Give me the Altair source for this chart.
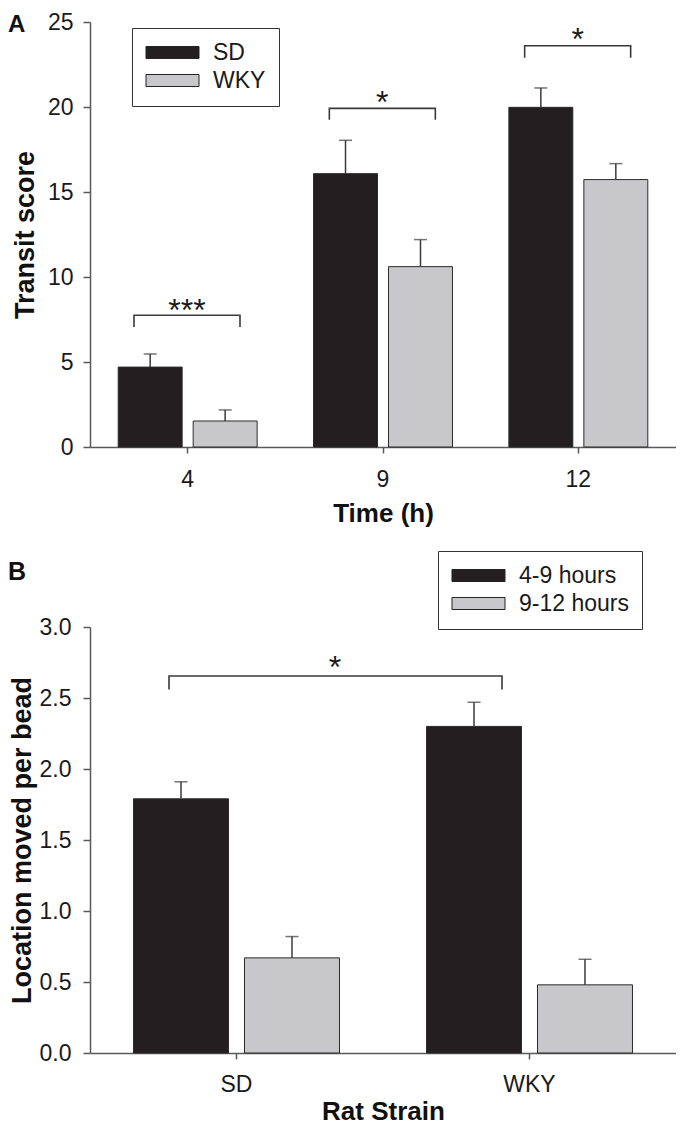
import altair as alt
import pandas as pd

FONT = "Liberation Sans"
INK = "#3a3a3a"
AXIS = "#5a5a5a"

# ---------------- Panel A ----------------
a_times = ["4", "9", "12"]
a_groups = ["SD", "WKY"]
a_sd_mean = [4.70, 16.08, 19.98]
a_sd_err = [0.77, 1.96, 1.14]
a_wky_mean = [1.53, 10.61, 15.73]
a_wky_err = [0.65, 1.59, 0.94]
a_brk_low = [7.06, 19.25, 22.90]
a_brk_high = [7.75, 19.92, 23.60]
a_star_y = [8.49, 20.72, 24.40]
a_star_text = ["***", "*", "*"]

# ---------------- Panel B ----------------
b_strains = ["SD", "WKY"]
b_periods = ["4-9 hours", "9-12 hours"]
b_early_mean = [1.79, 2.30]
b_early_err = [0.12, 0.17]
b_late_mean = [0.67, 0.48]
b_late_err = [0.15, 0.18]
b_brk_low = 2.56
b_brk_high = 2.655
b_star_y = 2.77
b_star_text = "*"

# presentation constants (pixel offsets inside a band)
A_BRK_L, A_BRK_R, A_STAR = 44, 150, 97
B_BRK_L, B_BRK_R, B_STAR = 79, 119, 245

# ---- tables ----
rows = []
for i, t in enumerate(a_times):
    rows.append({"time": t, "group": "SD", "mean": a_sd_mean[i], "upper": a_sd_mean[i] + a_sd_err[i]})
    rows.append({"time": t, "group": "WKY", "mean": a_wky_mean[i], "upper": a_wky_mean[i] + a_wky_err[i]})
dfA = pd.DataFrame(rows)

brA = []
for i, t in enumerate(a_times):
    pts = [(A_BRK_L, a_brk_low[i]), (A_BRK_L, a_brk_high[i]), (A_BRK_R, a_brk_high[i]), (A_BRK_R, a_brk_low[i])]
    for k, (o, v) in enumerate(pts):
        brA.append({"time": t, "off": o, "y": v, "order": k})
dfBrA = pd.DataFrame(brA)
dfStarA = pd.DataFrame({"time": a_times, "y": a_star_y, "txt": a_star_text, "off": [A_STAR] * 3})

rowsB = []
for i, s in enumerate(b_strains):
    rowsB.append({"strain": s, "period": b_periods[0], "mean": b_early_mean[i], "upper": b_early_mean[i] + b_early_err[i]})
    rowsB.append({"strain": s, "period": b_periods[1], "mean": b_late_mean[i], "upper": b_late_mean[i] + b_late_err[i]})
dfB = pd.DataFrame(rowsB)
dfBrB = pd.DataFrame({
    "strain": ["SD", "SD", "WKY", "WKY"],
    "off": [B_BRK_L, B_BRK_L, B_BRK_R, B_BRK_R],
    "y": [b_brk_low, b_brk_high, b_brk_high, b_brk_low],
    "order": [0, 1, 2, 3],
})
dfStarB = pd.DataFrame({"strain": ["SD"], "y": [b_star_y], "txt": [b_star_text], "off": [B_STAR]})

BAR_COLORS = ["#231f20", "#c8c8ca"]


def legend(x, y):
    return alt.Legend(
        title=None, orient="none", legendX=x, legendY=y, direction="vertical",
        symbolType="M-4,-0.906H4V0.906H-4Z", symbolSize=175.6,
        symbolStrokeColor="#222222", symbolStrokeWidth=1, symbolOffset=16,
        labelFont=FONT, labelFontSize=23, labelColor="#1a1a1a", labelOffset=29,
        padding=13, rowPadding=4, strokeColor="#333333", fillColor="white",
    )


def yaxis(title, values, fmt, pad, tx, ty):
    return alt.Axis(
        title=title, values=values, format=fmt, grid=False, tickSize=7,
        labelPadding=pad, titleX=tx, titleY=ty, titleBaseline="alphabetic",
        titleAngle=-90,
    )


def xaxis(title, ty, lp):
    return alt.Axis(title=title, labelAngle=0, tickSize=6, labelPadding=lp,
                    titleY=ty, titleBaseline="top")


# ---------------- Chart A ----------------
xA = alt.X("time:N", sort=a_times, scale=alt.Scale(paddingInner=0, paddingOuter=0),
           axis=xaxis("Time (h)", 53, 15))
yA = alt.Y("mean:Q", scale=alt.Scale(domain=[0, 25], nice=False),
           axis=yaxis("Transit score", [0, 5, 10, 15, 20, 25], "d", 10, -57, 212.5))
offA = alt.XOffset("group:N", sort=a_groups, scale=alt.Scale(paddingInner=0.147, paddingOuter=0.376))

barsA = alt.Chart(dfA).mark_bar(stroke="#2b2b2b", strokeWidth=1).encode(
    x=xA, xOffset=offA, y=yA,
    color=alt.Color("group:N", scale=alt.Scale(domain=a_groups, range=BAR_COLORS), legend=legend(42, 6)),
)
errA = alt.Chart(dfA).mark_rule(color=INK, strokeWidth=1.5).encode(
    x=alt.X("time:N", sort=a_times), xOffset=offA, y="mean:Q", y2="upper:Q")
capA = alt.Chart(dfA).mark_tick(color=INK, thickness=1.5, size=13).encode(
    x=alt.X("time:N", sort=a_times), xOffset=offA, y="upper:Q")
brkA = alt.Chart(dfBrA).mark_line(color=INK, strokeWidth=1.6).encode(
    x=alt.X("time:N", sort=a_times),
    xOffset=alt.XOffset("off:Q", scale=None),
    y="y:Q", order="order:Q", detail="time:N")
starA = alt.Chart(dfStarA).mark_text(font=FONT, fontSize=32, color="#1a1a1a", baseline="alphabetic", dy=18).encode(
    x=alt.X("time:N", sort=a_times), xOffset=alt.XOffset("off:Q", scale=None),
    y="y:Q", text="txt:N")
letterA = alt.Chart(pd.DataFrame({"t": ["A"]})).mark_text(
    font=FONT, fontSize=24, fontWeight="bold", align="left", baseline="alphabetic", color="#111"
).encode(text="t:N", x=alt.value(-82), y=alt.value(10))

chartA = alt.layer(barsA, errA, capA, brkA, starA, letterA).resolve_scale(
    xOffset="independent").properties(width=586, height=425)

# ---------------- Chart B ----------------
xB = alt.X("strain:N", sort=b_strains, scale=alt.Scale(paddingInner=0, paddingOuter=0),
           axis=xaxis("Rat Strain", 45, 14))
yB = alt.Y("mean:Q", scale=alt.Scale(domain=[0, 3], nice=False),
           axis=yaxis("Location moved per bead", [0, 0.5, 1, 1.5, 2, 2.5, 3], ".1f", 12, -60, 213))
offB = alt.XOffset("period:N", sort=b_periods, scale=alt.Scale(paddingInner=0.144, paddingOuter=0.392))

barsB = alt.Chart(dfB).mark_bar(stroke="#2b2b2b", strokeWidth=1).encode(
    x=xB, xOffset=offB, y=yB,
    color=alt.Color("period:N", scale=alt.Scale(domain=b_periods, range=BAR_COLORS), legend=legend(348, -76)),
)
errB = alt.Chart(dfB).mark_rule(color=INK, strokeWidth=1.5).encode(
    x=alt.X("strain:N", sort=b_strains), xOffset=offB, y="mean:Q", y2="upper:Q")
capB = alt.Chart(dfB).mark_tick(color=INK, thickness=1.5, size=13).encode(
    x=alt.X("strain:N", sort=b_strains), xOffset=offB, y="upper:Q")
brkB = alt.Chart(dfBrB).mark_line(color=INK, strokeWidth=1.6).encode(
    x=alt.X("strain:N", sort=b_strains),
    xOffset=alt.XOffset("off:Q", scale=None),
    y="y:Q", order="order:Q")
starB = alt.Chart(dfStarB).mark_text(font=FONT, fontSize=32, color="#1a1a1a", baseline="alphabetic", dy=18).encode(
    x=alt.X("strain:N", sort=b_strains), xOffset=alt.XOffset("off:Q", scale=None),
    y="y:Q", text="txt:N")
letterB = alt.Chart(pd.DataFrame({"t": ["B"]})).mark_text(
    font=FONT, fontSize=25, fontWeight="bold", align="left", baseline="alphabetic", color="#111"
).encode(text="t:N", x=alt.value(-82), y=alt.value(-47))

chartB = alt.layer(barsB, errB, capB, brkB, starB, letterB).resolve_scale(
    xOffset="independent").properties(width=586, height=426)

chart = alt.vconcat(chartA, chartB, spacing=24).resolve_scale(color="independent").properties(
    padding={"left": 0, "top": 3, "right": 0, "bottom": 0}
).configure_view(stroke=None).configure_axis(
    labelFont=FONT, labelFontSize=23, labelColor="#1a1a1a",
    titleFont=FONT, titleFontSize=27, titleFontWeight="bold", titleColor="#111",
    domainColor=AXIS, tickColor=AXIS, domainWidth=1.5, tickWidth=1.5,
).configure_axisX(titleFontSize=26)

chart.save("out.html", embed_options={"renderer": "svg", "actions": False})
